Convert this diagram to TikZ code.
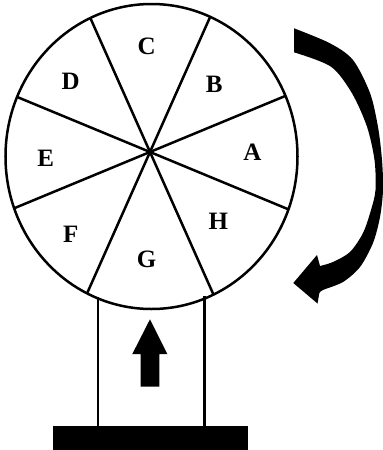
\documentclass[tikz,border=0pt]{standalone}
\usepackage{fontspec}
\setmainfont{Liberation Serif}
\usetikzlibrary{positioning}

\begin{document}
\begin{tikzpicture}[
    x=1pt, y=-1pt,
    rim/.style={draw=black, line width=2.5pt},
    sector/.style={font=\fontsize{25}{25}\selectfont\bfseries, inner sep=0pt},
    solid/.style={fill=black, draw=none}
]
\useasboundingbox (0,0) rectangle (383,450);

% wheel
\coordinate (hub) at (150,152);
\begin{scope}
    \clip (151.5,156.5) ellipse [x radius=146, y radius=152.5];
    \foreach \a in {22.5,66,114,157.5} {
        \draw[rim] (hub) -- ++(\a:320) (hub) -- ++(\a:-320);
    }
\end{scope}
\draw[rim] (151.5,156.5) ellipse [x radius=146, y radius=152.5];

\node[sector] (lA) at (252.3,152.7) {A};
\node[sector] (lB) at (214.3,84) {B};
\node[sector] (lC) at (146.7,46) {C};
\node[sector] (lD) at (70.7,81) {D};
\node[sector] (lE) at (45.7,158.3) {E};
\node[sector] (lF) at (70.7,234.3) {F};
\node[sector] (lG) at (146.7,259.3) {G};
\node[sector] (lH) at (218.3,221) {H};

% stand
\coordinate (postL) at (98,297);
\coordinate (postR) at (204.5,296);
\draw[rim] (postL) -- (postL |- 0,427);
\draw[rim] (postR) -- (postR |- 0,427);
\fill[solid] (53,426) rectangle (248,450);

% up arrow
\fill[solid] (150,319.3) -- (167.3,354) -- (159.3,354) -- (159.3,386.7)
    -- (140.7,386.7) -- (140.7,354) -- (132.3,354) -- cycle;

% turning arrow
\fill[solid] plot[smooth] coordinates {(294,28.3) (330,43.3) (353,60) (370,93)
        (378,127) (382,160) (383,190) (380,217) (373,243) (360,267) (343,282)
        (323,290) (319.3,293.3)}
    -- (317.5,303.5) -- (293.3,283) -- (317,255) -- (320,266)
    -- plot[smooth] coordinates {(320,266) (333,262) (350,252) (363,233)
        (371,210) (375.5,190) (374.5,160) (367,126.7) (352,93.3) (331,66.7)
        (294,52.3)} -- cycle;
\end{tikzpicture}
\end{document}
